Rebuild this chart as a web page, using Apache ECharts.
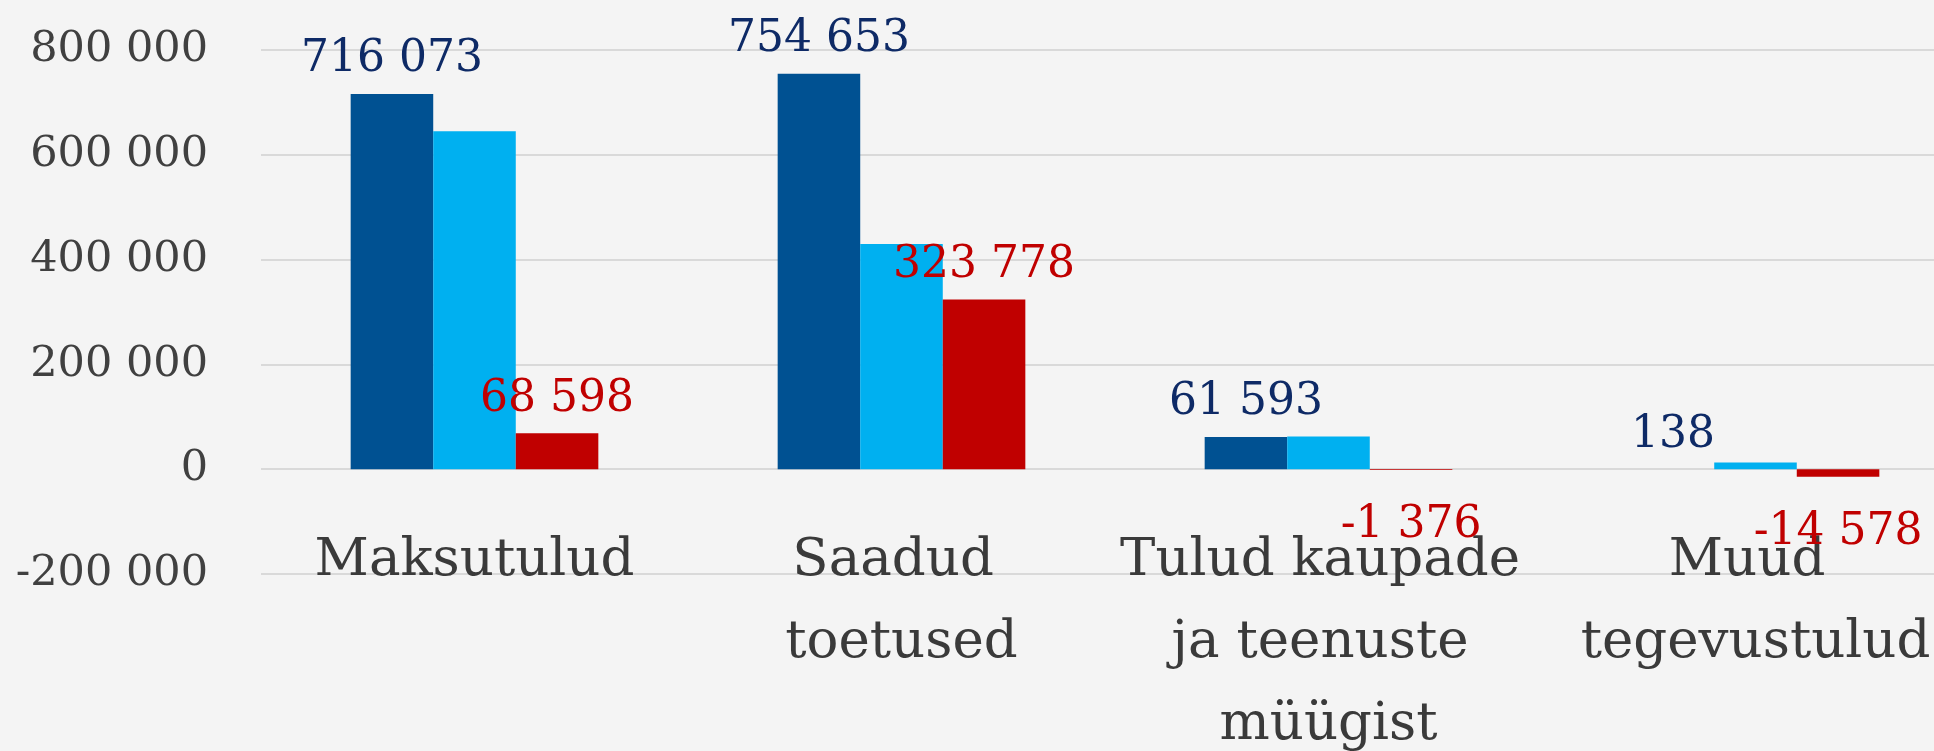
<!DOCTYPE html>
<html>
<head>
<meta charset="utf-8">
<style>
  html, body { margin: 0; padding: 0; background: #f4f4f4; }
  #chart { width: 1934px; height: 751px; }
</style>
<script src="https://cdn.jsdelivr.net/npm/echarts@6/dist/echarts.min.js"></script>
</head>
<body>
<div id="chart"></div>
<script>
// andmed
var categories = ['Maksutulud', 'Saadud toetused', 'Tulud kaupade ja teenuste müügist', 'Muud tegevustulud'];
var seriesA = [716073, 754653, 61593, 138];     // tumesinine, sildiga
var seriesB = [645000, 430000, 62500, 12800];    // helesinine, sildita
var seriesC = [68598, 323778, -1376, -14578];    // punane, sildiga
var yTicks = [-200000, 0, 200000, 400000, 600000, 800000];

var FONT = 'DejaVu Serif';

function fmt(v) {
  return String(v).replace(/\B(?=(\d{3})+(?!\d))/g, ' ');
}

var chart = echarts.init(document.getElementById('chart'));

chart.setOption({
  backgroundColor: '#f4f4f4',
  animation: false,
  grid: {
    left: 261,
    top: 50,
    width: 1708,
    bottom: 177,
    containLabel: false,
    outerBoundsMode: 'none'
  },
  xAxis: {
    type: 'category',
    data: categories,
    axisLine: { show: false },
    axisTick: { show: false },
    splitLine: { show: false },
    axisLabel: {
      interval: 0,
      margin: -54,   // sildid algavad nulljoone alt, üle -200 000 joone
      fontFamily: FONT,
      fontSize: 53,
      lineHeight: 82,
      color: '#3a3a3a',
      width: 420,
      overflow: 'break'
    }
  },
  yAxis: {
    type: 'value',
    min: yTicks[0],
    max: yTicks[yTicks.length - 1],
    interval: 200000,
    axisLine: { show: false },
    axisTick: { show: false },
    splitLine: { lineStyle: { color: '#d9d9d9', width: 2 } },
    axisLabel: {
      margin: 53,
      fontFamily: FONT,
      fontSize: 43,
      color: '#404040',
      padding: [6, 0, 0, 0],
      formatter: fmt
    }
  },
  series: [
    {
      type: 'bar',
      data: seriesA,
      barGap: '0%',
      barCategoryGap: '42%',
      itemStyle: { color: '#005192' },
      label: {
        show: true,
        position: 'top',
        distance: 12,
        fontFamily: FONT,
        fontSize: 44,
        color: '#0e2a66',
        formatter: function (p) { return fmt(p.value); }
      }
    },
    {
      type: 'bar',
      data: seriesB,
      itemStyle: { color: '#00b0f0' }
    },
    {
      type: 'bar',
      data: seriesC.map(function (v) {
        return {
          value: v,
          label: { position: v < 0 ? 'bottom' : 'top', distance: v < 0 ? 34 : 12 }
        };
      }),
      itemStyle: { color: '#c00000' },
      label: {
        show: true,
        fontFamily: FONT,
        fontSize: 44,
        color: '#c00000',
        formatter: function (p) { return fmt(p.value); }
      }
    }
  ]
});
</script>
</body>
</html>
